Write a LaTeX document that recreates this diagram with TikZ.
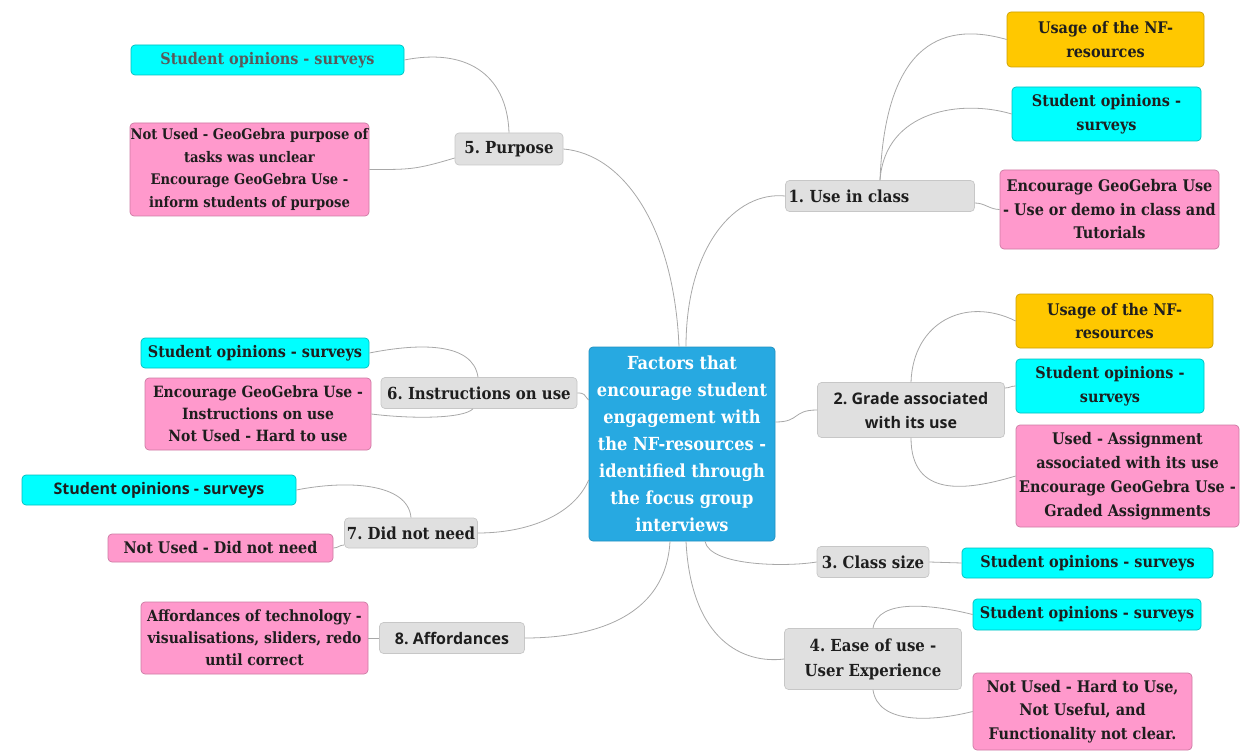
\documentclass[tikz,border=0pt]{standalone}
\usepackage{fontspec}
\setmainfont{DejaVu Serif Condensed}
\newfontfamily\osans{Open Sans}
\frenchspacing
\definecolor{cblue}{HTML}{27A9E1}
\definecolor{ccyan}{HTML}{00FFFF}
\definecolor{cpink}{HTML}{FF99CC}
\definecolor{corange}{HTML}{FFC800}
\definecolor{cgrey}{HTML}{E0E0E0}
\definecolor{ctext}{HTML}{1E1E1E}
\definecolor{clink}{HTML}{A8A8A8}
\tikzset{
  box/.style={rounded corners=4pt, line width=0.7pt, align=center, inner sep=0pt, text=ctext, font=\frenchspacing\bfseries\fontsize{16}{23.5}\selectfont},
  centre/.style={box, fill=cblue, draw=cblue!85!black, text=white, font=\frenchspacing\bfseries\fontsize{18}{27}\selectfont},
  branch/.style={box, fill=cgrey, draw=black!22, font=\frenchspacing\bfseries\fontsize{16.6}{25}\selectfont},
  cyanbox/.style={box, fill=ccyan, draw=ccyan!75!black},
  pinkbox/.style={box, fill=cpink, draw=cpink!80!black},
  orangebox/.style={box, fill=corange, draw=corange!80!black},
  link/.style={draw=clink, line width=0.8pt},
}
\begin{document}
\begin{tikzpicture}[x=1pt,y=-1pt]
\useasboundingbox (0,0) rectangle (1246,751);
% centre
\node[centre, minimum width=186, minimum height=194] (c) at (682,444)
  {Factors that\\encourage student\\engagement with\\the NF-resources -\\identified through\\the focus group\\interviews};
% branches
\node[branch, minimum width=108, minimum height=32] (p5) at (509,149) {5. Purpose};
\node[branch, minimum width=189, minimum height=31, text width=183, align=left] (l1) at (880,196) {1. Use in class};
\node[branch, minimum width=187, minimum height=55, font=\osans\bfseries\fontsize{16}{24}\selectfont] (l2) at (911,410) {2. Grade associated\\with its use};
\node[branch, minimum width=112, minimum height=31] (l3) at (873,562) {3. Class size};
\node[branch, minimum width=177, minimum height=61] (l4) at (873,659) {4. Ease of use -\\User Experience};
\node[branch, minimum width=196, minimum height=31] (k6) at (479,393) {6. Instructions on use};
\node[branch, minimum width=133, minimum height=30] (k7) at (411,533) {7. Did not need};
\node[branch, minimum width=145, minimum height=31, font=\osans\bfseries\fontsize{16}{24}\selectfont] (k8) at (452,638) {8. Affordances};
% leaves
\node[cyanbox, minimum width=273, minimum height=30, text=black!65] (t5a) at (267.5,60) {Student opinions - surveys};
\node[pinkbox, minimum width=239, minimum height=93, font=\bfseries\fontsize{14.6}{22.5}\selectfont] (t5b) at (249.5,169.5) {Not Used - GeoGebra purpose of\\tasks was unclear\\Encourage GeoGebra Use -\\inform students of purpose};
\node[orangebox, minimum width=197, minimum height=55] (o1) at (1105.5,39.5) {Usage of the NF-\\resources};
\node[cyanbox, minimum width=189, minimum height=54] (c1) at (1106.5,114) {Student opinions -\\surveys};
\node[pinkbox, minimum width=219, minimum height=79] (p1) at (1109.5,209.5) {Encourage GeoGebra Use\\- Use or demo in class and\\Tutorials};
\node[orangebox, minimum width=197, minimum height=54] (o2) at (1114.5,321) {Usage of the NF-\\resources};
\node[cyanbox, minimum width=188, minimum height=54] (c2) at (1110,386) {Student opinions -\\surveys};
\node[pinkbox, minimum width=223, minimum height=102, font=\bfseries\fontsize{16}{24}\selectfont] (p2) at (1127.5,476) {Used - Assignment\\associated with its use\\Encourage GeoGebra Use -\\Graded Assignments};
\node[cyanbox, minimum width=251, minimum height=30] (c3) at (1087.5,563) {Student opinions - surveys};
\node[cyanbox, minimum width=228, minimum height=31] (c4) at (1087,614.5) {Student opinions - surveys};
\node[pinkbox, minimum width=219, minimum height=77] (p4) at (1082.5,711.5) {Not Used - Hard to Use,\\Not Useful, and\\Functionality not clear.};
\node[cyanbox, minimum width=228, minimum height=30] (c6) at (255,353) {Student opinions - surveys};
\node[pinkbox, minimum width=226, minimum height=72, font=\bfseries\fontsize{15.5}{22}\selectfont] (p6) at (258,414) {Encourage GeoGebra Use -\\Instructions on use\\Not Used - Hard to use};
\node[cyanbox, minimum width=274, minimum height=30, font=\osans\bfseries\fontsize{16}{22}\selectfont] (c7) at (159,490) {Student opinions - surveys};
\node[pinkbox, minimum width=225, minimum height=28] (p7) at (220.5,548) {Not Used - Did not need};
\node[pinkbox, minimum width=227, minimum height=72, font=\bfseries\fontsize{15.5}{22}\selectfont] (p8) at (254.5,638) {Affordances of technology -\\visualisations, sliders, redo\\until correct};
% centre links
\draw[link] (p5.east) .. controls +(60,5) and +(-5,-120) .. ([xshift=-3pt]c.north);
\draw[link] (l1.west) .. controls +(-50,-5) and +(0,-100) .. ([xshift=4pt]c.north);
\draw[link] (l2.west) .. controls +(-25,0) and +(25,0) .. ([yshift=22pt]c.east);
\draw[link] ([xshift=23pt]c.south) .. controls +(5,25) and +(-30,5) .. (l3.west);
\draw[link] ([xshift=4pt]c.south) .. controls +(5,100) and +(-40,5) .. (l4.west);
\draw[link] ([xshift=-12pt]c.south) .. controls +(-5,90) and +(40,0) .. (k8.east);
\draw[link] (k6.east) .. controls +(8,0) and +(-5,-5) .. ([yshift=44pt]c.west);
\draw[link] ([yshift=-36pt]c.west) .. controls +(-15,35) and +(50,0) .. (k7.east);
% leaf links
\draw[link] (p5.north) .. controls +(-2,-60) and +(60,-12) .. (t5a.east);
\draw[link] ([yshift=-9pt]p5.west) .. controls +(-40,12) and +(40,0) .. (t5b.east);
\draw[link] (l1.north) .. controls +(5,-130) and +(-70,-20) .. (o1.west);
\draw[link] (l1.north) .. controls +(5,-70) and +(-50,-15) .. (c1.west);
\draw[link] ([yshift=-7pt]l1.east) .. controls +(10,0) and +(-10,0) .. (p1.west);
\draw[link] (l2.north) .. controls +(2,-60) and +(-50,-25) .. (o2.west);
\draw[link] ([yshift=22pt]l2.east) .. controls +(5,0) and +(-5,0) .. (c2.west);
\draw[link] (l2.south) .. controls +(0,60) and +(-50,15) .. (p2.west);
\draw[link] (l3.east) -- (c3.west);
\draw[link] (l4.north) .. controls +(5,-30) and +(-40,-10) .. (c4.west);
\draw[link] (l4.south) .. controls +(5,35) and +(-40,10) .. (p4.west);
\draw[link] ([xshift=-1pt]k6.north) .. controls +(-5,-35) and +(50,-10) .. (c6.east);
\draw[link] ([xshift=-6pt]k6.south) .. controls +(-10,10) and +(40,5) .. (p6.east);
\draw[link] (k7.north) .. controls +(-3,-35) and +(50,-10) .. (c7.east);
\draw[link] ([yshift=-12pt]k7.west) .. controls +(-5,0) and +(5,0) .. (p7.east);
\draw[link] (k8.west) -- (p8.east);
\end{tikzpicture}
\end{document}
